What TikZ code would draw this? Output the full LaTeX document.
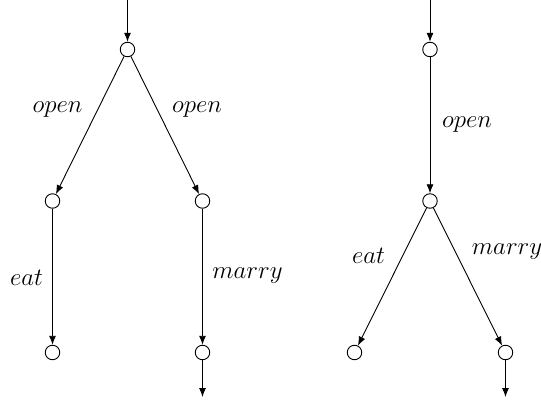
\documentclass[tikz,border=0pt]{standalone}
\usetikzlibrary{arrows.meta}
\tikzset{
  state/.style={circle,draw,line width=0.9pt,minimum size=14.5pt,inner sep=0pt,fill=white},
  arr/.style={line width=0.9pt,-{Latex[length=9pt,width=7pt]}},
  lbl/.style={anchor=base,inner sep=0pt,font=\Huge}
}
\begin{document}
\begin{tikzpicture}[x=1pt,y=-1pt]
\useasboundingbox (0,0) rectangle (541,401);
% left tree
\node[state] (r1) at (127.5,49.5) {};
\node[state] (a1) at (52.5,201) {};
\node[state] (b1) at (202.5,201) {};
\node[state] (c1) at (52.5,352.5) {};
\node[state] (d1) at (202.5,352.5) {};
\coordinate (t1) at (127.5,0);
\coordinate (e1) at (202.5,397);
\draw[arr] (t1) -- (r1);
\draw[arr] (r1) -- (a1);
\draw[arr] (r1) -- (b1);
\draw[arr] (a1) -- (c1);
\draw[arr] (b1) -- (d1);
\draw[arr] (d1) -- (e1);
\node[lbl] (l1) at (57.5,113) {$open$};
\node[lbl] (l2) at (197,113) {$open$};
\node[lbl] (l3) at (26.5,285) {$eat$};
\node[lbl] (l4) at (247.5,278) {$marry$};
% right tree
\node[state] (r2) at (430,49.5) {};
\node[state] (m2) at (430,201) {};
\node[state] (c2) at (354.5,352.5) {};
\node[state] (d2) at (505.5,352.5) {};
\coordinate (t2) at (430,0);
\coordinate (e2) at (505.5,397);
\draw[arr] (t2) -- (r2);
\draw[arr] (r2) -- (m2);
\draw[arr] (m2) -- (c2);
\draw[arr] (m2) -- (d2);
\draw[arr] (d2) -- (e2);
\node[lbl] (l5) at (467,127.5) {$open$};
\node[lbl] (l6) at (368.5,263) {$eat$};
\node[lbl] (l7) at (507,254) {$marry$};
\end{tikzpicture}
\end{document}
